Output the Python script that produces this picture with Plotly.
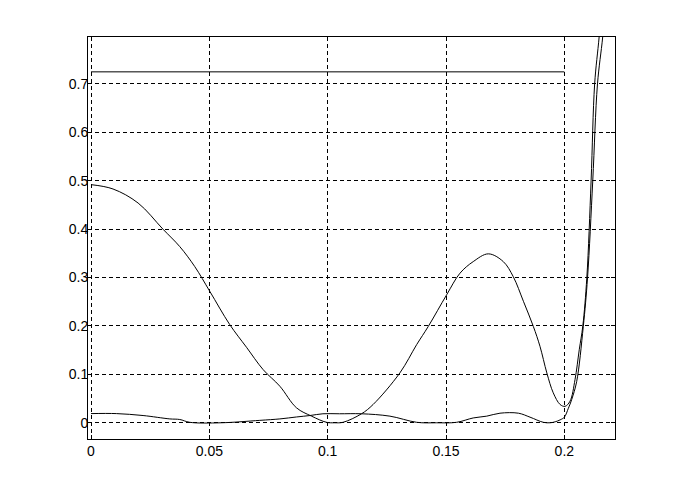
import plotly.graph_objects as go

# Upper (large-ripple) curve
curve_a_x = [0.0, 0.0093, 0.0199, 0.0304, 0.0375, 0.0438, 0.0502, 0.0586, 0.0657, 0.0727,
             0.0798, 0.0868, 0.0932, 0.0995, 0.1030, 0.1065, 0.1143, 0.1192, 0.1305, 0.1376,
             0.1425, 0.1503, 0.1559, 0.1615, 0.1679, 0.1742, 0.1784, 0.1827, 0.1869, 0.1897,
             0.1926, 0.1953, 0.1982, 0.2003, 0.2024, 0.2045, 0.2063, 0.2078, 0.2095, 0.2113,
             0.2128, 0.2147, 0.2165]
curve_a_y = [0.492, 0.483, 0.454, 0.400, 0.364, 0.323, 0.2715, 0.203, 0.156, 0.110,
             0.0755, 0.031, 0.0137, 0.001, 0.0, 0.001, 0.0186, 0.0378, 0.103, 0.1615,
             0.199, 0.2647, 0.309, 0.333, 0.349, 0.333, 0.302, 0.251, 0.199, 0.158,
             0.103, 0.062, 0.0378, 0.034, 0.0446, 0.089, 0.151, 0.20, 0.30, 0.50,
             0.70, 0.797, 0.90]

# Lower (small-ripple) curve
curve_b_x = [0.0, 0.0107, 0.022, 0.0333, 0.0375, 0.0417, 0.0550, 0.0713, 0.0798, 0.0868,
             0.0925, 0.0980, 0.1050, 0.1143, 0.1263, 0.1376, 0.1460, 0.1545, 0.1615, 0.1672,
             0.1728, 0.1806, 0.1855, 0.1911, 0.1940, 0.1961, 0.1982, 0.2000, 0.2017, 0.2031,
             0.2052, 0.2080, 0.2098, 0.2120, 0.2140, 0.2162, 0.2180]
curve_b_y = [0.019, 0.019, 0.015, 0.008, 0.0068, 0.001, 0.0, 0.005, 0.008, 0.012,
             0.015, 0.0186, 0.0186, 0.0186, 0.0137, 0.001, 0.0, 0.001, 0.010, 0.0137,
             0.0198, 0.0198, 0.0116, 0.001, 0.0, 0.002, 0.006, 0.0116, 0.030, 0.048,
             0.085, 0.199, 0.30, 0.50, 0.70, 0.797, 0.90]

# Horizontal level line
level_x = [0.0, 0.2]
level_y = [0.725, 0.725]

x_ticks = [0, 0.05, 0.1, 0.15, 0.2]
x_tick_labels = ["0", "0.05", "0.1", "0.15", "0.2"]
y_ticks = [0, 0.1, 0.2, 0.3, 0.4, 0.5, 0.6, 0.7]
y_tick_labels = ["0", "0.1", "0.2", "0.3", "0.4", "0.5", "0.6", "0.7"]

line_style = dict(color="black", width=1)

fig = go.Figure()
fig.add_trace(go.Scatter(x=curve_a_x, y=curve_a_y, mode="lines", line=line_style,
                         line_shape="spline", showlegend=False))
fig.add_trace(go.Scatter(x=curve_b_x, y=curve_b_y, mode="lines", line=line_style,
                         line_shape="spline", showlegend=False))
fig.add_trace(go.Scatter(x=level_x, y=level_y, mode="lines", line=line_style,
                         showlegend=False))

axis_common = dict(
    showline=True, linecolor="black", linewidth=1, mirror="ticks",
    ticks="inside", ticklen=4, tickcolor="black", tickwidth=1,
    showgrid=True, gridcolor="black", gridwidth=1, griddash="4px,3px",
    zeroline=False,
    tickfont=dict(family="Liberation Sans, Arial, sans-serif", size=14, color="black"),
)

fig.update_xaxes(range=[-0.00127, 0.2214], tickvals=x_ticks, ticktext=x_tick_labels,
                 ticklabelstandoff=-1, **axis_common)
fig.update_yaxes(range=[-0.0335, 0.797], tickvals=y_ticks, ticktext=y_tick_labels,
                 ticklabelstandoff=-4, **axis_common)

fig.update_layout(
    width=677, height=492,
    margin=dict(l=80, r=70, t=29, b=61, autoexpand=False),
    paper_bgcolor="white", plot_bgcolor="white",
)

fig.write_html("out.html")
